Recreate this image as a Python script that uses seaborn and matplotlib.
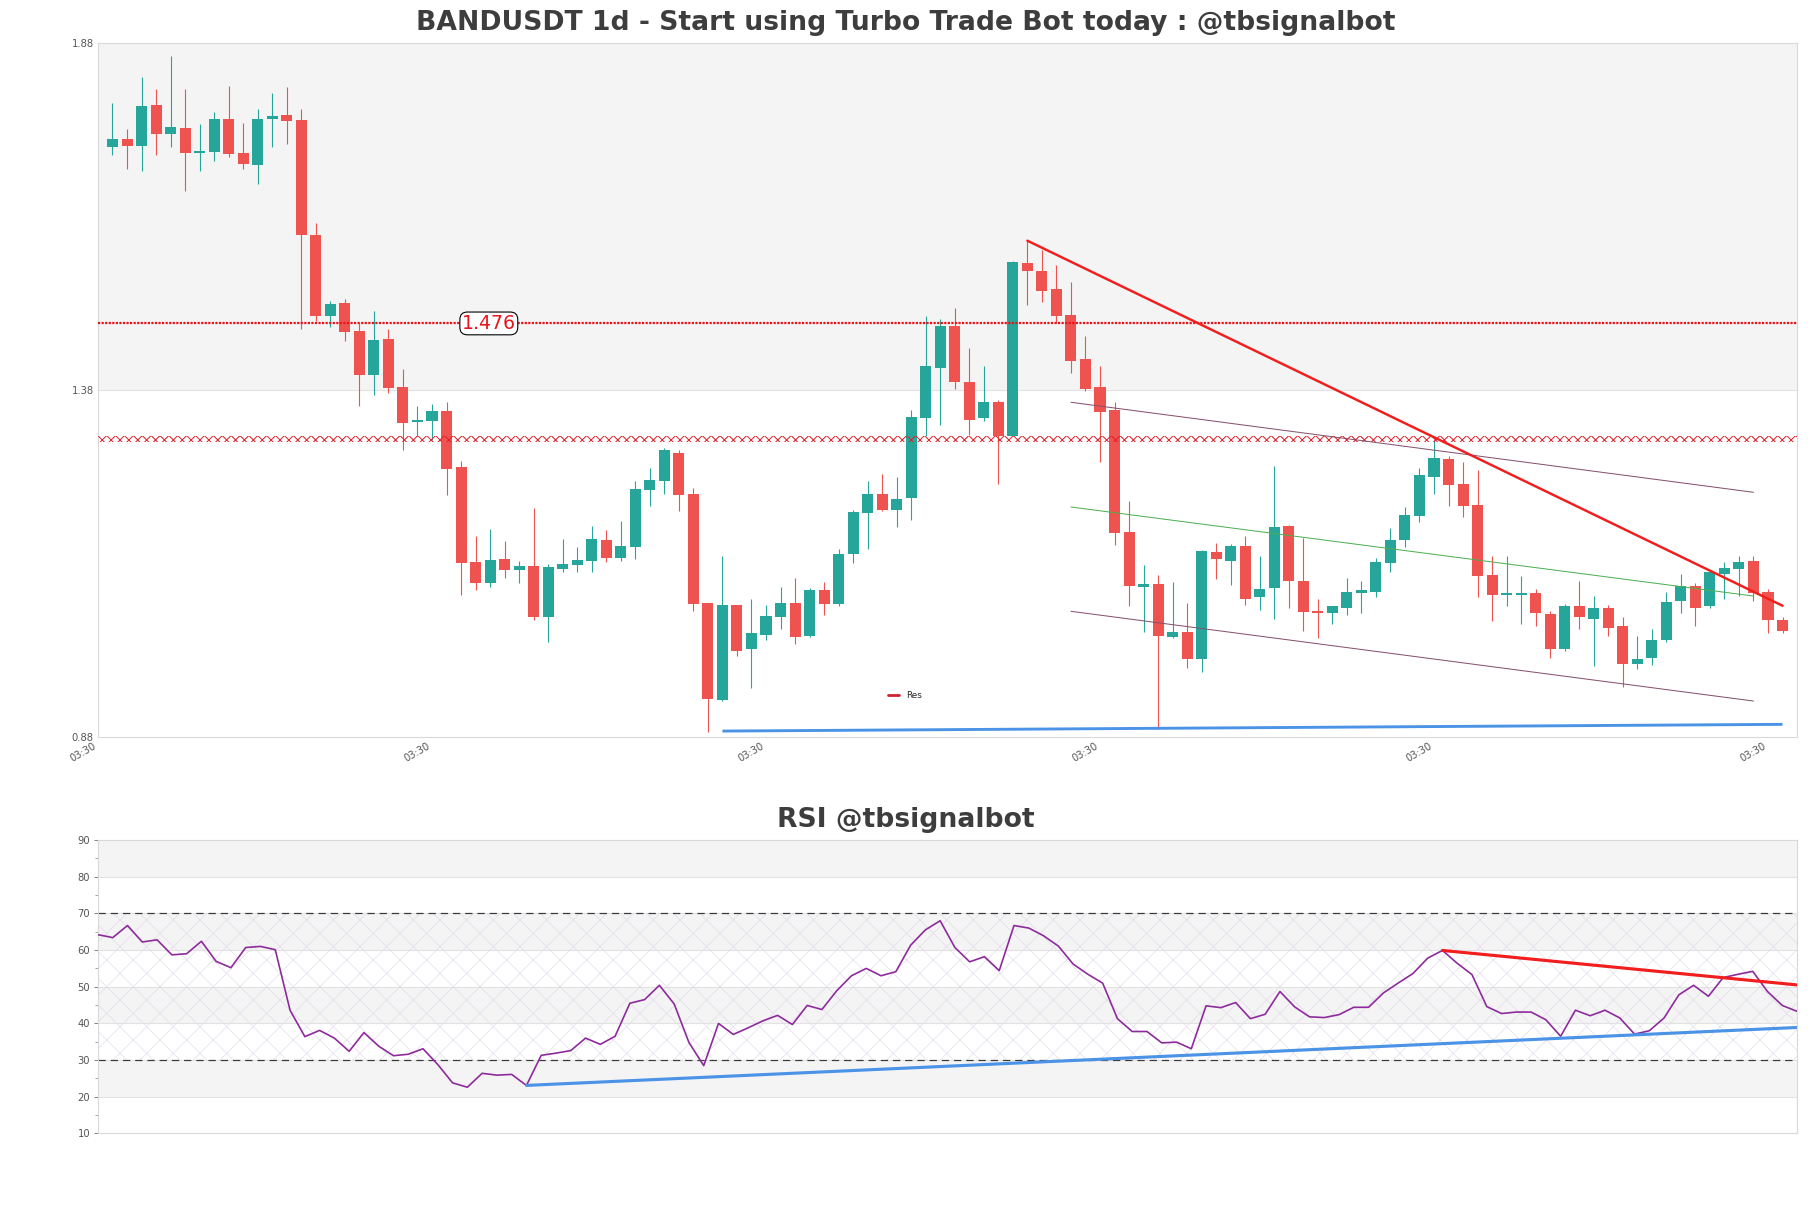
import numpy as np
import pandas as pd
import matplotlib
matplotlib.use('Agg')
import matplotlib.pyplot as plt
import seaborn as sns

# ---- data ----
opens = [1.731, 1.742, 1.732, 1.791, 1.749, 1.758, 1.722, 1.723, 1.771, 1.722,
         1.705, 1.771, 1.777, 1.769, 1.604, 1.486, 1.506, 1.465, 1.402, 1.454,
         1.385, 1.334, 1.336, 1.350, 1.269, 1.132, 1.102, 1.136, 1.121, 1.126,
         1.053, 1.122, 1.127, 1.134, 1.164, 1.138, 1.154, 1.236, 1.249, 1.289,
         1.230, 1.073, 0.933, 1.070, 1.006, 1.027, 1.053, 1.073, 1.026, 1.092,
         1.072, 1.143, 1.203, 1.230, 1.207, 1.224, 1.340, 1.412, 1.472, 1.392,
         1.339, 1.362, 1.314, 1.563, 1.552, 1.525, 1.488, 1.425, 1.384, 1.351,
         1.175, 1.096, 1.100, 1.024, 1.031, 0.992, 1.147, 1.134, 1.155, 1.081,
         1.095, 1.184, 1.104, 1.060, 1.059, 1.066, 1.088, 1.089, 1.130, 1.163,
         1.199, 1.255, 1.281, 1.244, 1.214, 1.113, 1.085, 1.085, 1.088, 1.057,
         1.006, 1.068, 1.050, 1.065, 1.039, 0.985, 0.993, 1.020, 1.076, 1.098,
         1.068, 1.115, 1.122, 1.134, 1.089, 1.049]
highs = [1.794, 1.756, 1.831, 1.814, 1.862, 1.814, 1.764, 1.781, 1.818, 1.765,
         1.785, 1.808, 1.817, 1.785, 1.621, 1.509, 1.511, 1.476, 1.494, 1.468,
         1.410, 1.357, 1.360, 1.362, 1.277, 1.170, 1.180, 1.162, 1.133, 1.210,
         1.129, 1.165, 1.154, 1.184, 1.178, 1.191, 1.249, 1.268, 1.296, 1.293,
         1.239, 1.073, 1.140, 1.070, 1.079, 1.070, 1.096, 1.109, 1.094, 1.103,
         1.151, 1.207, 1.249, 1.259, 1.254, 1.351, 1.487, 1.482, 1.498, 1.441,
         1.414, 1.365, 1.566, 1.595, 1.582, 1.560, 1.536, 1.458, 1.414, 1.362,
         1.220, 1.128, 1.113, 1.103, 1.073, 1.149, 1.160, 1.158, 1.169, 1.141,
         1.270, 1.186, 1.167, 1.078, 1.069, 1.109, 1.104, 1.138, 1.181, 1.212,
         1.267, 1.308, 1.285, 1.276, 1.265, 1.141, 1.140, 1.112, 1.093, 1.062,
         1.072, 1.104, 1.083, 1.070, 1.052, 1.026, 1.036, 1.089, 1.115, 1.102,
         1.120, 1.132, 1.141, 1.140, 1.093, 1.052]
lows = [1.719, 1.699, 1.696, 1.719, 1.730, 1.667, 1.696, 1.710, 1.716, 1.699,
        1.677, 1.730, 1.735, 1.468, 1.480, 1.471, 1.450, 1.357, 1.373, 1.375,
        1.294, 1.314, 1.308, 1.228, 1.084, 1.092, 1.096, 1.109, 1.102, 1.049,
        1.017, 1.118, 1.117, 1.118, 1.132, 1.134, 1.136, 1.213, 1.230, 1.205,
        1.062, 0.887, 0.932, 0.997, 0.951, 1.020, 1.036, 1.014, 1.024, 1.055,
        1.069, 1.131, 1.151, 1.206, 1.183, 1.193, 1.313, 1.330, 1.381, 1.315,
        1.336, 1.245, 1.313, 1.503, 1.507, 1.476, 1.404, 1.379, 1.276, 1.157,
        1.068, 1.031, 0.891, 1.022, 0.979, 0.973, 1.108, 1.099, 1.070, 1.063,
        1.050, 1.066, 1.033, 1.023, 1.043, 1.056, 1.059, 1.082, 1.118, 1.153,
        1.190, 1.230, 1.213, 1.197, 1.081, 1.047, 1.069, 1.042, 1.040, 0.994,
        1.004, 1.036, 0.982, 1.026, 0.952, 0.978, 0.984, 1.017, 1.059, 1.039,
        1.066, 1.079, 1.083, 1.076, 1.030, 1.029]
closes = [1.742, 1.732, 1.790, 1.749, 1.759, 1.722, 1.723, 1.771, 1.720, 1.706,
          1.771, 1.775, 1.768, 1.604, 1.487, 1.504, 1.464, 1.402, 1.452, 1.383,
          1.333, 1.336, 1.350, 1.266, 1.131, 1.102, 1.135, 1.121, 1.126, 1.053,
          1.125, 1.129, 1.135, 1.165, 1.138, 1.155, 1.237, 1.250, 1.293, 1.228,
          1.072, 0.935, 1.070, 1.004, 1.029, 1.054, 1.073, 1.024, 1.092, 1.072,
          1.144, 1.204, 1.230, 1.207, 1.223, 1.341, 1.414, 1.472, 1.391, 1.337,
          1.362, 1.314, 1.564, 1.551, 1.523, 1.487, 1.422, 1.381, 1.349, 1.174,
          1.098, 1.100, 1.026, 1.031, 0.992, 1.148, 1.137, 1.155, 1.079, 1.093,
          1.183, 1.104, 1.060, 1.058, 1.068, 1.089, 1.089, 1.132, 1.164, 1.200,
          1.258, 1.282, 1.243, 1.213, 1.112, 1.085, 1.087, 1.088, 1.059, 1.007,
          1.068, 1.052, 1.065, 1.037, 0.985, 0.992, 1.020, 1.075, 1.098, 1.066,
          1.117, 1.124, 1.132, 1.088, 1.049, 1.033]

rsi = [64.2, 63.4, 66.7, 62.2, 62.8, 58.7, 59.0, 62.4, 56.9, 55.2,
       60.7, 61.0, 60.1, 43.6, 36.4, 38.1, 36.0, 32.4, 37.5, 33.8,
       31.2, 31.6, 33.1, 28.8, 23.8, 22.6, 26.4, 25.9, 26.1, 23.1,
       31.3, 31.9, 32.6, 36.0, 34.3, 36.5, 45.5, 46.5, 50.4, 45.3,
       34.8, 28.5, 40.0, 37.0, 38.8, 40.7, 42.2, 39.7, 44.9, 43.8,
       48.9, 53.0, 55.0, 53.0, 54.1, 61.3, 65.5, 68.0, 60.7, 56.8,
       58.2, 54.4, 66.7, 66.0, 63.9, 61.1, 56.2, 53.4, 51.0, 41.3,
       37.8, 37.8, 34.7, 34.9, 33.1, 44.8, 44.3, 45.7, 41.3, 42.5,
       48.7, 44.5, 41.8, 41.6, 42.4, 44.4, 44.4, 48.3, 51.0, 53.6,
       57.8, 59.9, 56.4, 53.3, 44.6, 42.7, 43.1, 43.1, 41.0, 36.5,
       43.6, 42.1, 43.6, 41.5, 37.1, 38.0, 41.5, 47.8, 50.4, 47.4,
       52.5, 53.4, 54.2, 48.7, 44.9, 43.3]

# trend / channel lines: (x0, y0, x1, y1) in candle index and price
res_line = [63, 1.5953, 115, 1.0689]
chan_upper = [66, 1.3623, 113, 1.2325]
chan_mid = [66, 1.2113, 113, 1.0829]
chan_lower = [66, 1.0609, 113, 0.9315]
sup_line = [42, 0.8882, 115, 0.8979]
level_dotted = 1.476
level_hatched = 1.309

rsi_res = [91, 59.9, 115, 50.5]
rsi_sup = [29, 23.1, 115, 38.9]

xtick_pos = [-1, 22, 45, 68, 91, 114]
xtick_labels = ['03:30'] * len(xtick_pos)

df = pd.DataFrame({'open': opens, 'high': highs, 'low': lows, 'close': closes})
df['idx'] = np.arange(len(df))
df_rsi = pd.DataFrame({'idx': np.arange(len(rsi)), 'rsi': rsi})

# ---- styling ----
sns.set_style('white')
plt.rcParams['font.family'] = ['DejaVu Sans']
plt.rcParams['hatch.linewidth'] = 0.6
UP = '#26a69a'
DOWN = '#ef5350'
GREY_BAND = '#f4f4f4'
SPINE = '#d9d9d9'
TXT = '#555555'

fig = plt.figure(figsize=(22.6375, 15.1), dpi=80)
ax = fig.add_axes([0.0541, 0.3901, 0.9382, 0.5741])
ax2 = fig.add_axes([0.0541, 0.0617, 0.9382, 0.2429])

# ---- price panel ----
ax.set_xlim(-1, 116)
ax.set_ylim(0.88, 1.88)
ax.axhspan(1.38, 1.88, color=GREY_BAND, lw=0, zorder=0)
ax.axhline(1.38, color='#e2e2e2', lw=1, zorder=0.5)

up = df[df['close'] >= df['open']]
dn = df[df['close'] < df['open']]
for part, col in [(up, UP), (dn, DOWN)]:
    ax.vlines(part['idx'], part['low'], part['high'], color=col, lw=1.0, zorder=2)
    body = (part['close'] - part['open']).abs().clip(lower=0.003)
    ax.bar(part['idx'], body, bottom=part[['open', 'close']].min(axis=1),
           width=0.76, color=col, lw=0, zorder=3)

# horizontal levels
ax.axhline(level_dotted, color='#e8141c', lw=2.0, ls=(0, (1, 0.6)), zorder=4)
# hatched level drawn twice so it reads as a solid red band like the original
for _ in range(2):
    ax.axhspan(level_hatched - 0.004, level_hatched + 0.004, facecolor='none',
               edgecolor='#e0202a', hatch='xxx', lw=0, zorder=4)
ax.text(24.05, level_dotted, '1.476', color='#e8141c', fontsize=17, ha='left', va='center',
        zorder=6, bbox=dict(boxstyle='round,pad=0.1,rounding_size=0.4', fc='white', ec='black', lw=1))

# channel + trend lines
ax.plot(chan_upper[0::2], chan_upper[1::2], color='#85506c', lw=0.9, zorder=4)
ax.plot(chan_mid[0::2], chan_mid[1::2], color='#4caf50', lw=0.9, zorder=4)
ax.plot(chan_lower[0::2], chan_lower[1::2], color='#85506c', lw=0.9, zorder=4)
ax.plot(res_line[0::2], res_line[1::2], color='#f21d1d', lw=2.2, zorder=5, label='Res')
ax.plot(sup_line[0::2], sup_line[1::2], color='#4a93e6', lw=2.6, zorder=5, solid_capstyle='butt')

ax.set_yticks([0.88, 1.38, 1.88])
ax.set_yticklabels(['0.88', '1.38', '1.88'])
ax.set_xticks(xtick_pos)
ax.set_xticklabels(xtick_labels, rotation=30, ha='right')
ax.tick_params(axis='both', length=0, labelsize=9, labelcolor=TXT, pad=4)
for s in ax.spines.values():
    s.set_color(SPINE)
    s.set_linewidth(1)

leg = ax.legend(loc='center', bbox_to_anchor=(0.475, 0.06), frameon=False, fontsize=8,
                handlelength=1.2, handletextpad=0.8)
leg.get_lines()[0].set_color('#d0202c')
leg.get_lines()[0].set_linewidth(2.5)

fig.text(0.5, 0.981, 'BANDUSDT 1d - Start using Turbo Trade Bot today : @tbsignalbot',
         ha='center', va='center', fontsize=24, fontweight='bold', color='#3d3d3d')

# ---- RSI panel ----
ax2.set_xlim(0, len(rsi) - 1)
ax2.set_ylim(10, 90)
for lo in [20, 40, 60, 80]:
    ax2.axhspan(lo, lo + 10, color=GREY_BAND, lw=0, zorder=0)
for y in range(20, 90, 10):
    ax2.axhline(y, color='#e2e2e2', lw=1, zorder=0.5)
ax2.axhspan(30, 70, facecolor='none', edgecolor='#e2dbe9', hatch='x', lw=0, zorder=0.8)
ax2.axhline(70, color='#3a3a3a', lw=1.1, ls=(0, (6, 4)), zorder=1)
ax2.axhline(30, color='#3a3a3a', lw=1.1, ls=(0, (6, 4)), zorder=1)

sns.lineplot(data=df_rsi, x='idx', y='rsi', ax=ax2, color='#8e2b9c', lw=1.5, zorder=3)
ax2.plot(rsi_res[0::2], rsi_res[1::2], color='#f21d1d', lw=2.8, zorder=4)
ax2.plot(rsi_sup[0::2], rsi_sup[1::2], color='#4a93e6', lw=2.8, zorder=4)

ax2.set_yticks(range(10, 91, 10))
ax2.set_yticks(range(15, 90, 10), minor=True)
ax2.set_xticks([])
ax2.set_xlabel('')
ax2.set_ylabel('')
ax2.tick_params(axis='y', which='major', length=4, width=0.8, color='#777777',
                labelsize=9, labelcolor=TXT, pad=3)
ax2.tick_params(axis='y', which='minor', length=3, width=0.8, color='#999999')
ax2.yaxis.set_ticks_position('left')
for s in ax2.spines.values():
    s.set_color(SPINE)
    s.set_linewidth(1)

fig.text(0.5, 0.3212, 'RSI @tbsignalbot', ha='center', va='center', fontsize=24,
         fontweight='bold', color='#3d3d3d')

fig.savefig('out.png', dpi=80)
